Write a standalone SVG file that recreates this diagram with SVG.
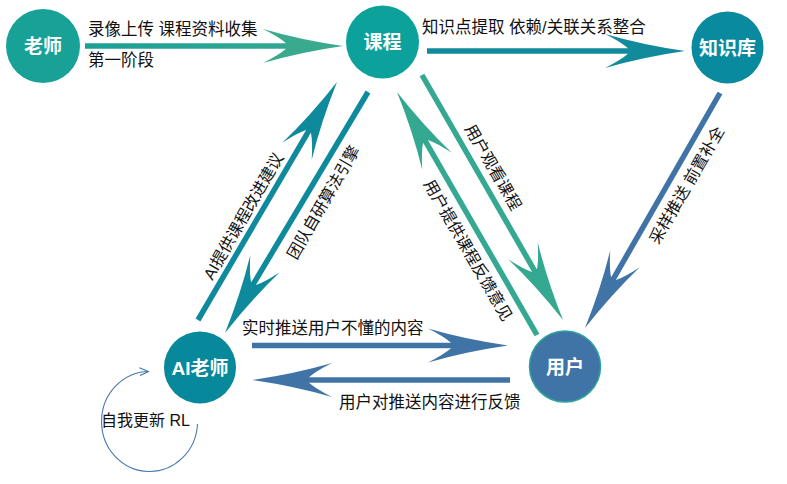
<svg xmlns="http://www.w3.org/2000/svg" xmlns:xlink="http://www.w3.org/1999/xlink" width="787" height="484" viewBox="0 0 787 484">
<defs>
<style>
.node-label{font-family:"Liberation Sans","Noto Sans CJK SC",sans-serif;font-size:19px;font-weight:bold;fill:#ffffff;text-anchor:middle}
.lbl{font-family:"Liberation Sans","Noto Sans CJK SC",sans-serif;font-size:16.5px;fill:#111111}
.rlbl{font-family:"Liberation Sans","Noto Sans CJK SC",sans-serif;font-size:16px;fill:#111111;text-anchor:middle}
.shaft{stroke-width:5.5;fill:none}
</style>
<path id="head" d="M0,0 Q-42,-6 -80,-17 Q-64,-9 -57,-2.8 L-57,2.8 Q-64,9 -80,17 Q-42,6 0,0 Z"/>
<linearGradient id="gTeach" gradientUnits="userSpaceOnUse" x1="85" y1="0" x2="343" y2="0">
<stop offset="0" stop-color="#1a9f98"/>
<stop offset="1" stop-color="#3aaa8e"/>
</linearGradient>
<marker id="chev" viewBox="0 0 10 10" refX="9" refY="5" markerWidth="10" markerHeight="10" markerUnits="userSpaceOnUse" orient="auto">
<path d="M0,1 L9,5 L0,9" fill="none" stroke="#4a7ab0" stroke-width="1.2"/>
</marker>
</defs>
<rect width="787" height="484" fill="#ffffff"/>

<g id="connectors">
<!-- 老师 -> 课程 -->
<line class="shaft" x1="85" y1="46" x2="290" y2="46" stroke="url(#gTeach)"/>
<use xlink:href="#head" href="#head" transform="translate(343,46)" fill="#3aaa8e"/>
<!-- 课程 -> 知识库 -->
<line class="shaft" x1="427" y1="51" x2="632" y2="51" stroke="#118b9c"/>
<use xlink:href="#head" href="#head" transform="translate(685,51)" fill="#118b9c"/>
<!-- AI老师 -> 用户 -->
<line class="shaft" x1="252" y1="345.5" x2="455" y2="345.5" stroke="#4174a6"/>
<use xlink:href="#head" href="#head" transform="translate(508,345.5)" fill="#4174a6"/>
<!-- 用户 -> AI老师 -->
<line class="shaft" x1="510" y1="380" x2="305" y2="380" stroke="#4174a6"/>
<use xlink:href="#head" href="#head" transform="translate(252,380) rotate(180)" fill="#4174a6"/>
<!-- 知识库 -> 用户 -->
<line class="shaft" x1="720" y1="93" x2="612.5" y2="280.4" stroke="#4174a6"/>
<use xlink:href="#head" href="#head" transform="translate(585,328) rotate(120)" fill="#4174a6"/>
<!-- 课程 -> 用户 -->
<line class="shaft" x1="422" y1="75" x2="535.5" y2="272.4" stroke="#34a890"/>
<use xlink:href="#head" href="#head" transform="translate(563,320) rotate(60)" fill="#34a890"/>
<!-- 用户 -> 课程 -->
<line class="shaft" x1="537" y1="335" x2="424.5" y2="139.6" stroke="#34a890"/>
<use xlink:href="#head" href="#head" transform="translate(397,92) rotate(-120)" fill="#34a890"/>
<!-- AI老师 -> 课程 -->
<line class="shaft" x1="198" y1="320" x2="309.5" y2="129.6" stroke="#0e8a9c"/>
<use xlink:href="#head" href="#head" transform="translate(337,82) rotate(-60)" fill="#0e8a9c"/>
<!-- 课程 -> AI老师 -->
<line class="shaft" x1="368" y1="92" x2="252.5" y2="285.4" stroke="#0e8a9c"/>
<use xlink:href="#head" href="#head" transform="translate(225,333) rotate(120)" fill="#0e8a9c"/>
<!-- self loop -->
<path d="M197.5,424 A48,50 0 1 1 148.5,371.5" fill="none" stroke="#4a7ab0" stroke-width="1.1" marker-end="url(#chev)"/>
</g>

<g id="labels">
<text class="lbl" x="88" y="35">录像上传 课程资料收集</text>
<text class="lbl" x="88" y="66">第一阶段</text>
<text class="lbl" x="422" y="33">知识点提取 依赖/关联关系整合</text>
<text class="lbl" x="242" y="334">实时推送用户不懂的内容</text>
<text class="lbl" x="339" y="408">用户对推送内容进行反馈</text>
<text class="lbl" x="101" y="426" style="font-size:16px">自我更新 RL</text>
<text class="rlbl" transform="translate(243,216) rotate(-60)" y="6">AI提供课程改进建议</text>
<text class="rlbl" transform="translate(323,202) rotate(-60)" y="6">团队自研算法引擎</text>
<text class="rlbl" transform="translate(493.5,167) rotate(60)" y="6">用户观看课程</text>
<text class="rlbl" transform="translate(468.5,250) rotate(60)" y="6">用户提供课程反馈意见</text>
<text class="rlbl" transform="translate(686.5,185) rotate(-60)" y="6">采样推送 前置补全</text>
</g>

<g id="node-teacher">
<circle cx="43" cy="46" r="37" fill="#17a197"/>
<text class="node-label" x="43" y="53">老师</text>
</g>
<g id="node-course">
<circle cx="382.5" cy="42" r="36.5" fill="#0ca29b"/>
<text class="node-label" x="382.5" y="49">课程</text>
</g>
<g id="node-knowledge">
<circle cx="727.5" cy="47.5" r="36" fill="#0a8a9e"/>
<text class="node-label" x="727.5" y="54.5">知识库</text>
</g>
<g id="node-ai">
<circle cx="200" cy="367.5" r="36" fill="#08899b"/>
<text class="node-label" x="200" y="374.5">AI老师</text>
</g>
<g id="node-user">
<circle cx="565" cy="366.5" r="35.5" fill="#4174a6" stroke="#2aa39a" stroke-width="1.5"/>
<text class="node-label" x="565" y="373.5">用户</text>
</g>
</svg>
